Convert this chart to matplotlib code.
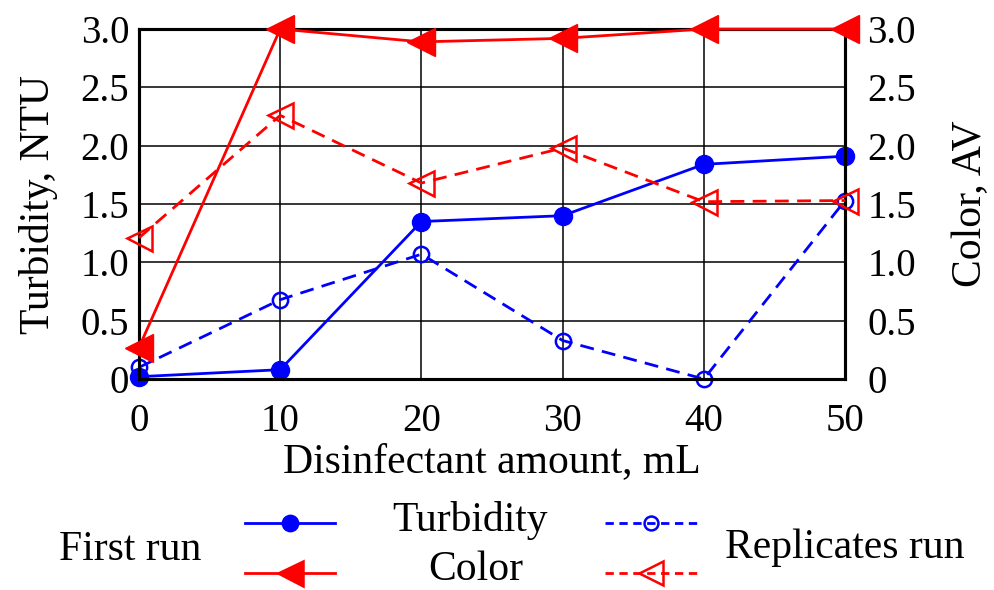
import matplotlib.pyplot as plt
from matplotlib.lines import Line2D
from matplotlib.ticker import FuncFormatter

plt.rcParams['font.family'] = ['Liberation Serif', 'DejaVu Serif']

# --- datos ---
dosis = [0, 10, 20, 30, 40, 50]
turb_primera = [0.02, 0.08, 1.35, 1.40, 1.84, 1.91]
turb_replica = [0.10, 0.68, 1.07, 0.33, 0.00, 1.53]
color_primera = [0.27, 3.00, 2.89, 2.92, 3.00, 3.00]
color_replica = [1.21, 2.26, 1.68, 1.98, 1.52, 1.53]

y_ticks = [0, 0.5, 1.0, 1.5, 2.0, 2.5, 3.0]

def fmt(v, pos):
    return '0' if v == 0 else f'{v:.1f}'

fig = plt.figure(figsize=(9.95, 5.90), dpi=100)
ax = fig.add_axes([0.1397, 0.3576, 0.7096, 0.5932])
ax2 = ax.twinx()

azul = '#0000ff'
rojo = '#ff0000'

ax.plot(dosis, turb_primera, '-', color=azul, lw=2, marker='o', ms=13, clip_on=False, zorder=5)
ax.plot(dosis, turb_replica, '--', color=azul, lw=2, marker='o', ms=11, mfc='none', mew=1.8,
        dashes=(5, 3), clip_on=False, zorder=5)
ax2.plot(dosis, color_primera, '-', color=rojo, lw=2, marker='<', ms=20, clip_on=False, zorder=5)
ax2.plot(dosis, color_replica, '--', color=rojo, lw=2, marker='<', ms=18, mfc='none', mew=1.8,
         dashes=(5, 3), clip_on=False, zorder=5)

for a in (ax, ax2):
    a.set_ylim(0, 3.0)
    a.set_yticks(y_ticks)
    a.yaxis.set_major_formatter(FuncFormatter(fmt))
    a.tick_params(length=0, labelsize=28)
    for s in a.spines.values():
        s.set_linewidth(2.2)
ax.tick_params(axis='y', pad=7)
ax.tick_params(axis='x', pad=17)
ax2.tick_params(axis='y', pad=16)

ax.set_xlim(0, 50)
ax.set_xticks(dosis)
ax.grid(True, color='black', lw=1.1)
ax.set_axisbelow(True)

ax.set_xlabel('Disinfectant amount, mL', fontsize=30, labelpad=2)
ax.set_ylabel('Turbidity, NTU', fontsize=30, labelpad=16)
ax2.set_ylabel('Color, AV', fontsize=30, labelpad=26)

# --- leyenda manual debajo del gráfico ---
fs = 30
fig.text(130 / 995, 1 - 550 / 590, 'First run', fontsize=fs, ha='center', va='center')
fig.text(470 / 995, 1 - 521 / 590, 'Turbidity', fontsize=fs, ha='center', va='center')
fig.text(476 / 995, 1 - 570 / 590, 'Color', fontsize=fs, ha='center', va='center')
fig.text(845 / 995, 1 - 548 / 590, 'Replicates run', fontsize=fs, ha='center', va='center')

muestras = [
    ((245, 335), 523, '-', azul, 'o', 11, azul),
    ((245, 335), 573, '-', rojo, '<', 18, rojo),
    ((605, 697), 523, '--', azul, 'o', 10, 'none'),
    ((605, 697), 573, '--', rojo, '<', 17, 'none'),
]
for (x0, x1), yy, ls, c, mk, ms, mfc in muestras:
    xs = [x0 / 995, x1 / 995]
    yp = 1 - yy / 590
    ln = Line2D(xs, [yp, yp], transform=fig.transFigure, color=c, lw=2, ls=ls)
    if ls == '--':
        ln.set_dashes((3, 2))
    fig.add_artist(ln)
    fig.add_artist(Line2D([(xs[0] + xs[1]) / 2], [yp], transform=fig.transFigure, color=c,
                          marker=mk, ms=ms, mfc=mfc, mew=1.8, ls='none'))

fig.savefig('out.png', dpi=100)
